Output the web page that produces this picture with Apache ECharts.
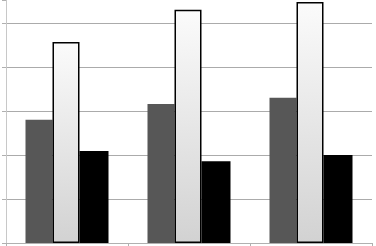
<!DOCTYPE html>
<html><head><meta charset="utf-8">
<script src="https://cdn.jsdelivr.net/npm/echarts@6/dist/echarts.min.js"></script>
<style>html,body{margin:0;padding:0;background:#fff}#c{width:376px;height:246px}</style>
</head><body><div id="c"></div>
<script>
var categories = ['A', 'B', 'C'];
var seriesDark = [2.80, 3.16, 3.30];
var seriesWhite = [4.57, 5.30, 5.48];
var seriesBlack = [2.09, 1.86, 2.00];
var yMin = 0, yMax = 5.523, yStep = 1;

var chart = echarts.init(document.getElementById('c'));
chart.setOption({
  animation: false,
  grid: {left: 6, right: 4, top: 0, bottom: 3, containLabel: false},
  xAxis: {
    type: 'category', data: categories,
    axisLine: {lineStyle: {color: '#b0b0b0', width: 1}},
    axisTick: {show: true, length: 3, lineStyle: {color: '#b0b0b0'}},
    axisLabel: {show: false}
  },
  yAxis: {
    type: 'value', min: yMin, max: yMax, interval: yStep,
    axisLine: {show: true, lineStyle: {color: '#c8c8c8', width: 1}},
    axisTick: {show: true, length: 4, lineStyle: {color: '#b0b0b0'}},
    axisLabel: {show: false},
    splitLine: {showMaxLine: false, lineStyle: {color: '#ababab', width: 1}}
  },
  series: [
    {type: 'bar', data: seriesDark, barWidth: 27, barGap: '0%',
     itemStyle: {color: '#575757'}},
    {type: 'bar', data: seriesWhite, barWidth: 27, barGap: '0%',
     itemStyle: {color: new echarts.graphic.LinearGradient(0, 0, 0, 1, [
        {offset: 0, color: '#fbfbfb'}, {offset: 1, color: '#d2d2d2'}]),
       borderColor: '#000', borderWidth: 1.5}},
    {type: 'bar', data: seriesBlack, barWidth: 29, barGap: '0%',
     itemStyle: {color: '#000'}}
  ]
});
</script></body></html>
